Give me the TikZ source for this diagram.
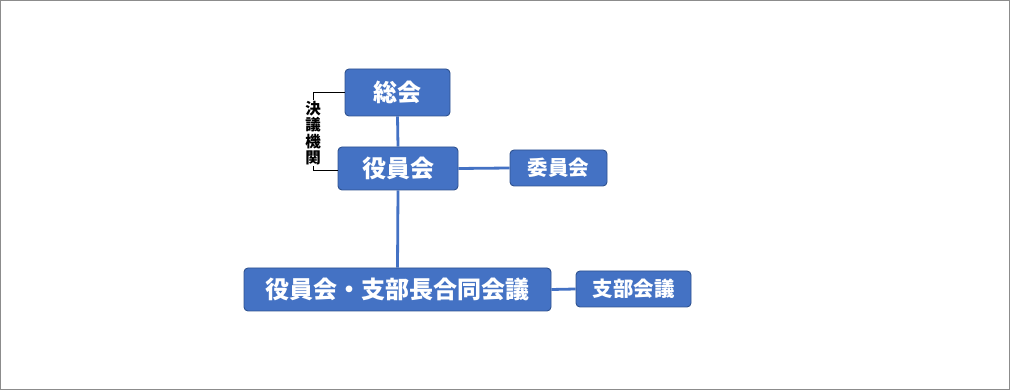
\documentclass[tikz,border=0pt]{standalone}
\usepackage{fontspec}
\newfontfamily\cjk{Noto Sans CJK JP}
\definecolor{boxfill}{HTML}{4472C4}
\definecolor{boxedge}{HTML}{2F528F}
\definecolor{frame}{HTML}{8C8C8C}
\begin{document}
\begin{tikzpicture}[x=1pt,y=-1pt,
  box/.style={draw=boxedge,line width=0.9pt,fill=boxfill,rounded corners=4pt,text=white,inner sep=0pt,anchor=center},
  bigbox/.style={box,font=\cjk\bfseries\fontsize{24}{26}\selectfont},
  smallbox/.style={box,font=\cjk\bfseries\fontsize{20.5}{22}\selectfont},
  link/.style={draw=boxfill,line width=2.8pt},
  bracket/.style={draw=black,line width=0.8pt}]
\path[use as bounding box,draw=frame,line width=1pt] (0.5,0.5) rectangle (1009.5,389.5);
\node[bigbox,minimum width=105pt,minimum height=47pt] (sokai) at (397.5,92.5) {総会};
\node[bigbox,minimum width=120pt,minimum height=43pt] (yakuin) at (398,168.5) {役員会};
\node[smallbox,minimum width=97pt,minimum height=36pt] (iin) at (558.5,168) {委員会};
\node[bigbox,minimum width=307pt,minimum height=43pt] (godo) at (397.5,289.5) {役員会・支部長合同会議};
\node[smallbox,minimum width=115pt,minimum height=36pt] (shibu) at (633.5,289) {支部会議};
\node[font=\cjk\bfseries\fontsize{15.5}{16.5}\selectfont,align=center,inner sep=1pt] (ketsugi) at (313,133) {決\\議\\機\\関};
\coordinate (bt) at (313,92.5);
\coordinate (bb) at (313,170);
\draw[link] (sokai.south) -- (yakuin.north);
\draw[link] (yakuin.south) -- (godo.north);
\draw[link] (yakuin.east) -- (iin.west);
\draw[link] (godo.east) -- (shibu.west);
\draw[bracket] (sokai.west) -- (bt) -- (ketsugi.north);
\draw[bracket] (ketsugi.south) -- (bb) -- (yakuin.west |- bb);
\end{tikzpicture}
\end{document}
